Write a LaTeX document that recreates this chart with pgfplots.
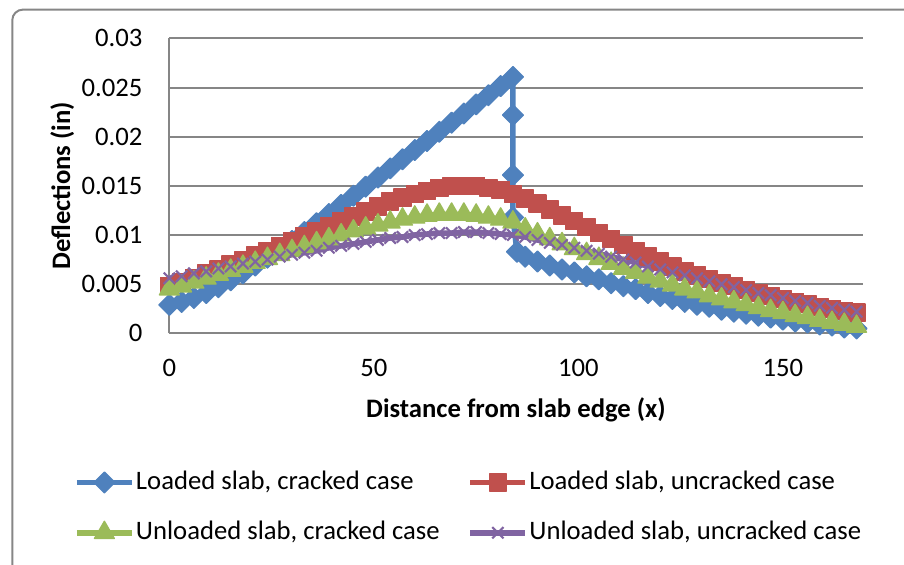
\documentclass[border=0pt]{standalone}
\usepackage{pgfplots}
\pgfplotsset{compat=1.18}
\usepackage{fontspec}
\setmainfont{Carlito}
\definecolor{sblue}{HTML}{4F81BD}
\definecolor{sred}{HTML}{C0504D}
\definecolor{sgreen}{HTML}{9BBB59}
\definecolor{spurple}{HTML}{8064A2}
\definecolor{gridgray}{HTML}{868686}
\begin{document}
\begin{tikzpicture}
\useasboundingbox (-63.5pt,-86.5pt) rectangle (275.5pt,125pt);
\draw[gridgray, line width=0.75pt, rounded corners=4pt] (-58.9pt,-120pt) -- (-58.9pt,121.4pt) -- (300pt,121.4pt);
\begin{axis}[
  at={(0pt,0pt)}, anchor=south west,
  scale only axis, width=260pt, height=110.6pt,
  xmin=0, xmax=169.5, ymin=0, ymax=0.03,
  axis x line*=bottom, axis y line*=left,
  hide obscured x ticks=false, hide obscured y ticks=false,
  axis line style={-, gridgray, line width=0.75pt},
  major tick length=0pt,
  ymajorgrids, grid style={gridgray, line width=0.75pt},
  xtick={0,50,100,150}, xticklabels={0,50,100,150},
  ytick={0,0.005,0.01,0.015,0.02,0.025,0.03},
  yticklabels={0,0.005,0.01,0.015,0.02,0.025,0.03},
  scaled y ticks=false, scaled x ticks=false,
  xticklabel style={anchor=center, yshift=-13.1pt, inner sep=0pt},
  yticklabel style={anchor=east, xshift=-9.9pt, inner sep=0pt},
  xlabel={\bfseries Distance from slab edge (x)},
  ylabel={\bfseries Deflections (in)},
  xlabel style={at={(axis description cs:0.5,0)}, anchor=center, yshift=-28.8pt},
  ylabel style={at={([xshift=-40.2pt]axis description cs:0,0.5)}, anchor=center},
  legend columns=2,
  legend cell align=left,
  legend style={draw=none, fill=none, at={(0,0)}, anchor=north west,
    xshift=-35.9pt, yshift=-49.5pt, inner sep=0pt, row sep=6.4pt,
    nodes={inner xsep=0.5pt, inner ysep=2pt},
    /tikz/every even column/.append style={column sep=10pt}},
  legend image code/.code={\draw[mark repeat=2,mark phase=2,#1] plot coordinates {(0pt,0pt) (10.3pt,0pt) (20.6pt,0pt)};},
  every axis plot/.append style={line width=2.1pt, line join=round},
]
\addplot[sblue, mark=diamond*, mark size=3.9pt, mark options={solid, xscale=1.333, fill=sblue, draw=sblue, line width=0.5pt}] coordinates {
(0,0.0029)(3,0.0032)(6,0.0036)(9,0.0041)(12,0.0047)(15,0.0054)(18,0.0061)(21,0.0069)(24,0.0077)(27,0.0085)
(30,0.0094)(33,0.0103)(36,0.0112)(39,0.01213)(42,0.01306)(45,0.01399)(48,0.01492)(51,0.01585)(54,0.01678)
(57,0.01771)(60,0.01864)(63,0.01957)(66,0.0205)(69,0.02143)(72,0.02236)(75,0.02329)(78,0.02422)(81,0.02515)
(84,0.02608)(84,0.0222)(84,0.0161)(84,0.0118)(85,0.0083)(87,0.0078)(90,0.0073)(93,0.0069)(96,0.0065)(99,0.0062)
(102,0.0058)(105,0.0055)(108,0.0051)(111,0.0048)(114,0.0045)(117,0.0041)(120,0.0038)(123,0.0035)(126,0.0032)
(129,0.0029)(132,0.0027)(135,0.0024)(138,0.0022)(141,0.0020)(144,0.0018)(147,0.0016)(150,0.0014)(153,0.0012)
(156,0.0011)(159,0.0009)(162,0.0008)(165,0.0006)(168,0.0005)};
\addlegendentry{Loaded slab, cracked case}
\addplot[sred, mark=square*, mark size=3.2pt, mark options={solid, fill=sred, draw=sred, line width=0.5pt}] coordinates {
(0,0.0048)(3,0.0052)(6,0.0056)(9,0.0061)(12,0.0065)(15,0.0070)(18,0.0074)(21,0.0079)(24,0.0084)(27,0.0089)
(30,0.0094)(33,0.0099)(36,0.0104)(39,0.0109)(42,0.0114)(45,0.0119)(48,0.0124)(51,0.0129)(54,0.0134)(57,0.0138)
(60,0.0142)(63,0.0145)(66,0.0148)(69,0.0150)(72,0.0150)(75,0.0150)(78,0.0148)(81,0.0146)(84,0.0142)(87,0.0137)
(90,0.0132)(93,0.0126)(96,0.0120)(99,0.0114)(102,0.0108)(105,0.0102)(108,0.0096)(111,0.0090)(114,0.0084)
(117,0.0078)(120,0.0073)(123,0.0068)(126,0.0063)(129,0.0059)(132,0.0055)(135,0.0051)(138,0.0048)(141,0.0044)
(144,0.0041)(147,0.0038)(150,0.0035)(153,0.0032)(156,0.0030)(159,0.0027)(162,0.0025)(165,0.0023)(168,0.0021)};
\addlegendentry{Loaded slab, uncracked case}
\addplot[sgreen, mark=triangle*, mark size=4.3pt, mark options={solid, fill=sgreen, draw=sgreen, line width=0.5pt}] coordinates {
(0,0.0045)(3,0.0048)(6,0.0052)(9,0.0056)(12,0.0060)(15,0.0064)(18,0.0068)(21,0.0072)(24,0.0076)(27,0.0080)
(30,0.0084)(33,0.0088)(36,0.0092)(39,0.0096)(42,0.0100)(45,0.0104)(48,0.0107)(51,0.0110)(54,0.0113)(57,0.0116)
(60,0.0118)(63,0.0120)(66,0.0121)(69,0.0121)(72,0.0121)(75,0.0120)(78,0.0118)(81,0.0116)(84,0.0113)(87,0.0106)
(90,0.0101)(93,0.0096)(96,0.0091)(99,0.0086)(102,0.0081)(105,0.0076)(108,0.0071)(111,0.0066)(114,0.0062)
(117,0.0057)(120,0.0053)(123,0.0049)(126,0.0045)(129,0.0042)(132,0.0038)(135,0.0035)(138,0.0032)(141,0.0029)
(144,0.0026)(147,0.0023)(150,0.0021)(153,0.0018)(156,0.0016)(159,0.0013)(162,0.0011)(165,0.0009)(168,0.0007)};
\addlegendentry{Unloaded slab, cracked case}
\addplot[spurple, mark=x, mark size=3pt, mark options={solid, line width=0.8pt}] coordinates {
(0,0.0056)(3,0.0058)(6,0.0061)(9,0.0063)(12,0.0066)(15,0.0068)(18,0.0071)(21,0.0073)(24,0.0075)(27,0.0078)
(30,0.0080)(33,0.0082)(36,0.0084)(39,0.0087)(42,0.0089)(45,0.0091)(48,0.0093)(51,0.0095)(54,0.0097)(57,0.0098)
(60,0.0100)(63,0.0101)(66,0.0102)(69,0.0102)(72,0.0103)(75,0.0103)(78,0.0102)(81,0.0101)(84,0.0100)(87,0.0098)
(90,0.0095)(93,0.0092)(96,0.0090)(99,0.0087)(102,0.0084)(105,0.0081)(108,0.0078)(111,0.0075)(114,0.0072)
(117,0.0068)(120,0.0065)(123,0.0062)(126,0.0059)(129,0.0056)(132,0.0053)(135,0.0050)(138,0.0047)(141,0.0044)
(144,0.0041)(147,0.0039)(150,0.0036)(153,0.0033)(156,0.0031)(159,0.0028)(162,0.0026)(165,0.0024)(168,0.0022)};
\addlegendentry{Unloaded slab, uncracked case}
\end{axis}
\end{tikzpicture}
\end{document}
